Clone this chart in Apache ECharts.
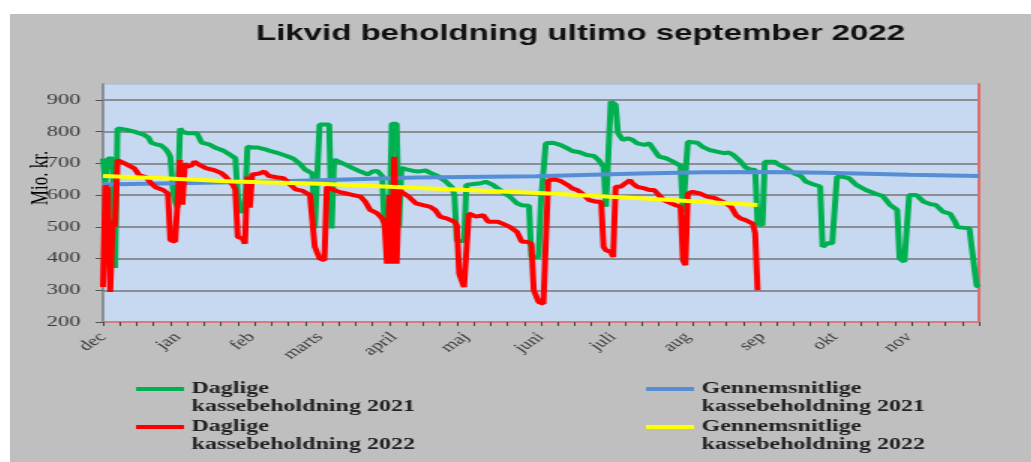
<!DOCTYPE html>
<html>
<head>
<meta charset="utf-8">
<title>Likvid beholdning ultimo september 2022</title>
<script src="https://cdn.jsdelivr.net/npm/echarts@6/dist/echarts.min.js"></script>
<style>
  html, body { margin: 0; padding: 0; background: #ffffff; }
  /* the reference is a horizontally stretched picture, so the chart is drawn narrow and stretched */
  #chart {
    position: absolute;
    left: 10px;
    top: 14px;
    width: 681px;
    height: 448px;
    transform: scaleX(1.5);
    transform-origin: 0 0;
  }
</style>
</head>
<body>
<div id="chart"></div>
<script>
const months = ["dec", "jan", "feb", "marts", "april", "maj", "juni", "juli", "aug", "sep", "okt", "nov"];
const monthLengths = [31, 31, 28, 31, 30, 31, 30, 31, 31, 30, 31, 30];
const yTicks = { min: 200, max: 950, interval: 100 };

const seriesNames = [
  "Daglige kassebeholdning 2021",
  "Gennemsnitlige kassebeholdning 2021",
  "Daglige kassebeholdning 2022",
  "Gennemsnitlige kassebeholdning 2022"
];

// [day index, mio. kr.]
const daily2021 = [
  [0,715],[1,640],[2,715],[3,715],[4,715],[5,370],[6,810],[8,808],[10,805],[13,800],[15,795],[17,790],
  [19,780],[20,765],[22,760],[24,757],[26,745],[27,735],[28,720],[29,620],[30,580],[31,560],[32,810],
  [33,800],[35,795],[39,795],[41,765],[44,760],[47,748],[50,740],[53,726],[55,716],[56,600],[57,555],
  [58,545],[59,560],[60,752],[62,750],[64,750],[67,745],[69,740],[72,734],[76,724],[79,715],[82,697],
  [84,680],[87,668],[88,495],[89,495],[90,822],[94,822],[95,495],[96,712],[98,705],[101,695],[104,684],
  [107,674],[110,665],[112,674],[114,676],[116,660],[117,500],[119,500],[120,825],[122,825],[123,500],
  [124,686],[126,681],[129,676],[131,674],[134,678],[136,670],[139,660],[142,645],[145,625],[146,600],
  [147,455],[150,455],[151,632],[154,635],[157,637],[159,642],[162,632],[164,621],[167,605],[169,595],
  [172,574],[174,568],[177,566],[178,405],[181,405],[182,584],[184,763],[187,765],[190,758],[193,747],
  [195,739],[198,735],[201,726],[204,723],[206,710],[208,689],[209,563],[210,563],[211,895],[213,884],
  [214,795],[216,774],[218,779],[220,774],[222,763],[225,758],[227,763],[229,742],[231,721],[234,716],
  [237,705],[240,692],[241,545],[242,545],[243,768],[247,765],[249,753],[252,742],[255,737],[258,732],
  [260,734],[262,726],[265,705],[267,687],[269,681],[271,679],[272,510],[274,505],[275,705],[276,708],
  [279,705],[281,695],[284,684],[287,669],[290,660],[292,643],[295,634],[298,627],[299,437],[301,448],
  [303,448],[305,658],[307,658],[310,653],[313,632],[317,616],[321,604],[324,597],[327,569],[330,553],
  [331,400],[333,390],[334,395],[335,600],[338,600],[341,579],[344,571],[346,569],[349,548],[352,541],
  [354,517],[355,499],[360,495],[361,490],[363,315],[364,310]
];

const avg2021 = [
  [0,633],[30,637],[60,641],[90,647],[130,655],[180,659],[223,668],[250,672],[275,673],[300,670],
  [335,664],[364,660]
];

const daily2022 = [
  [0,310],[1,630],[2,620],[3,295],[4,520],[5,500],[6,710],[7,705],[9,700],[11,692],[13,684],[14,674],
  [15,663],[18,656],[19,653],[20,637],[22,624],[25,616],[27,605],[28,458],[30,453],[31,453],[32,710],
  [33,570],[34,700],[35,689],[37,695],[38,705],[40,695],[43,684],[46,679],[49,670],[51,658],[54,632],
  [55,616],[56,468],[58,463],[59,447],[60,658],[61,560],[62,665],[65,668],[67,674],[69,660],[72,656],
  [75,653],[78,632],[80,618],[83,613],[86,600],[87,595],[88,437],[90,400],[92,395],[93,626],[96,616],
  [98,610],[101,605],[104,600],[107,595],[109,579],[111,553],[114,542],[116,526],[117,510],[118,384],
  [119,600],[120,384],[121,721],[122,384],[123,616],[125,605],[127,595],[130,574],[133,568],[136,563],
  [138,553],[140,532],[143,526],[146,516],[147,505],[148,352],[150,310],[151,305],[152,542],[155,532],
  [158,537],[160,516],[164,516],[166,510],[169,500],[172,484],[174,453],[176,453],[178,447],[179,300],
  [181,263],[183,258],[185,647],[188,649],[190,645],[193,632],[195,621],[197,616],[200,600],[202,584],
  [205,579],[207,579],[208,437],[209,426],[211,421],[212,405],[213,626],[215,626],[217,637],[219,647],
  [220,637],[222,626],[225,621],[227,616],[229,616],[231,600],[233,584],[236,574],[238,568],[240,563],
  [241,395],[242,379],[243,605],[245,610],[248,605],[251,595],[254,591],[256,584],[259,574],[261,563],
  [263,537],[265,526],[267,521],[270,510],[271,480],[272,300]
];

const avg2022 = [
  [0,660],[25,653],[54,643],[90,636],[131,622],[183,606],[223,590],[272,569]
];

// one category per day, "dec 1" ... "nov 30"
const days = [];
months.forEach((m, i) => {
  for (let d = 1; d <= monthLengths[i]; d++) {
    days.push(m + " " + d);
  }
});

const colors = ["#00b050", "#558ed5", "#ff0000", "#ffff00"];
const seriesData = [daily2021, avg2021, daily2022, avg2022];

const serifFont = "Liberation Serif";

const chart = echarts.init(document.getElementById("chart"));

const legendPos = [
  { left: 84, top: 348 },
  { left: 424, top: 348 },
  { left: 84, top: 386 },
  { left: 424, top: 386 }
];

const option = {
  animation: false,
  backgroundColor: "#bfbfbf",
  title: {
    text: "Likvid beholdning ultimo september 2022",
    left: 159,
    top: 4,
    textStyle: {
      fontFamily: "Liberation Sans",
      fontSize: 22,
      fontWeight: "bold",
      color: "#111111"
    }
  },
  legend: seriesNames.map((name, i) => ({
    data: [name],
    left: legendPos[i].left,
    top: legendPos[i].top,
    padding: 0,
    icon: "rect",
    itemWidth: 32,
    itemHeight: 4,
    selectedMode: false,
    formatter: (n) => " \n" + n.replace(" ", "\n"),
    textStyle: {
      fontFamily: serifFont,
      fontSize: 16,
      fontWeight: "bold",
      lineHeight: 18,
      color: "#222222"
    }
  })),
  graphic: [
    {
      type: "text",
      x: 21,
      y: 164,
      rotation: Math.PI / 2,
      style: {
        text: "Mio. kr.",
        fontFamily: serifFont,
        fontSize: 17,
        fill: "#000000",
        align: "center",
        verticalAlign: "middle"
      }
    }
  ],
  grid: {
    left: 62,
    top: 70,
    width: 584,
    height: 238,
    show: true,
    backgroundColor: "#c6d9f1",
    borderColor: "#a3b8d3",
    borderWidth: 1
  },
  xAxis: {
    type: "category",
    data: days,
    boundaryGap: false,
    axisLine: { lineStyle: { color: "#d97a7c", width: 2 } },
    axisTick: {
      interval: 6,
      length: 4,
      lineStyle: { color: "#444444", width: 1 }
    },
    axisLabel: {
      // only the first day of each month gets its month name
      interval: (index, value) => value.endsWith(" 1"),
      formatter: (value) => value.split(" ")[0],
      rotate: 45,
      margin: 13,
      fontFamily: serifFont,
      fontSize: 14,
      color: "#3a3a3a"
    },
    splitLine: { show: false }
  },
  yAxis: [
    {
      type: "value",
      min: yTicks.min,
      max: yTicks.max,
      interval: yTicks.interval,
      axisLine: { show: true, lineStyle: { color: "#7f7f7f", width: 1.5 } },
      axisTick: { show: true, length: 5, lineStyle: { color: "#555555" } },
      axisLabel: {
        showMaxLabel: false,
        margin: 15,
        fontFamily: serifFont,
        fontSize: 15,
        color: "#3a3a3a"
      },
      splitLine: {
        show: true,
        showMaxLine: false,
        lineStyle: { color: "#767676", width: 1.5 }
      }
    },
    {
      type: "value",
      position: "right",
      min: yTicks.min,
      max: yTicks.max,
      axisLine: { show: true, lineStyle: { color: "#e06c6e", width: 2 } },
      axisTick: { show: false },
      axisLabel: { show: false },
      splitLine: { show: false }
    }
  ],
  series: seriesNames.map((name, i) => ({
    name: name,
    type: "line",
    data: seriesData[i],
    showSymbol: false,
    symbol: "none",
    itemStyle: { color: colors[i] },
    lineStyle: { color: colors[i], width: 4 },
    z: 2 + i
  }))
};

chart.setOption(option);
</script>
</body>
</html>
